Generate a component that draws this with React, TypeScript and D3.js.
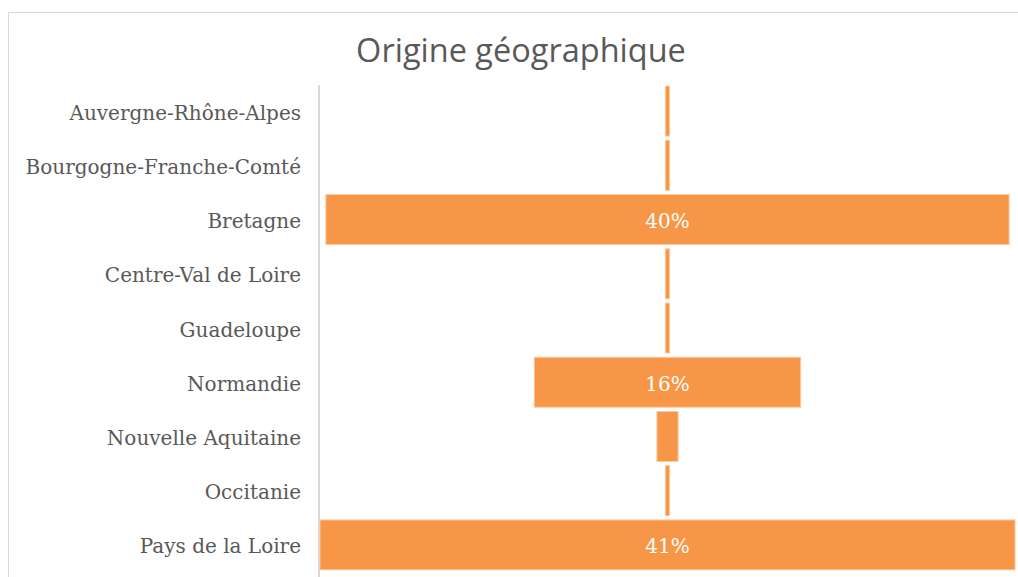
import React from "react";
import * as d3 from "d3";

const categories = [
  "Auvergne-Rhône-Alpes",
  "Bourgogne-Franche-Comté",
  "Bretagne",
  "Centre-Val de Loire",
  "Guadeloupe",
  "Normandie",
  "Nouvelle Aquitaine",
  "Occitanie",
  "Pays de la Loire",
];
const values = [0.25, 0.25, 40.4, 0.25, 0.25, 15.75, 1.25, 0.25, 41.1];
const title = "Origine géographique";

const W = 1018;
const H = 577;
const CX = 667.5;

export default function App() {
  const y = d3.scaleBand<string>().domain(categories).range([84, 572]).paddingInner(0.08).paddingOuter(0.04);
  const half = d3.scaleLinear().domain([0, d3.max(values) as number]).range([0, 347.5]);
  const labelFont = "'DejaVu Serif', serif";
  return (
    <svg width={W} height={H} style={{ position: "absolute", left: 0, top: 0, background: "#fff" }}>
      <rect x={8.5} y={12.5} width={W + 20} height={H + 20} fill="#fff" stroke="#d9d9d9" strokeWidth={1} />
      <text x={521} y={62} textAnchor="middle" fontFamily="'Open Sans', Lato, sans-serif" fontSize={32.5} fill="#595959">
        {title}
      </text>
      <line x1={319} x2={319} y1={85} y2={H} stroke="#d9d9d9" strokeWidth={2} />
      {categories.map((c, i) => {
        const v = values[i];
        const hw = half(v);
        const yy = y(c) as number;
        return (
          <g key={c}>
            <text x={301} y={yy + y.bandwidth() / 2 + 1.5} dy="0.35em" textAnchor="end" fontFamily={labelFont} fontSize={20} fill="#595959">
              {c}
            </text>
            <rect x={CX - hw} y={yy} width={hw * 2} height={y.bandwidth()} fill="#F79646" stroke="#FBC79B" strokeWidth={1} />
            {v >= 5 && (
              <text x={CX} y={yy + y.bandwidth() / 2 + 1.5} dy="0.35em" textAnchor="middle" fontFamily={labelFont} fontSize={20} fill="#fff">
                {`${Math.round(v)}%`}
              </text>
            )}
          </g>
        );
      })}
    </svg>
  );
}
